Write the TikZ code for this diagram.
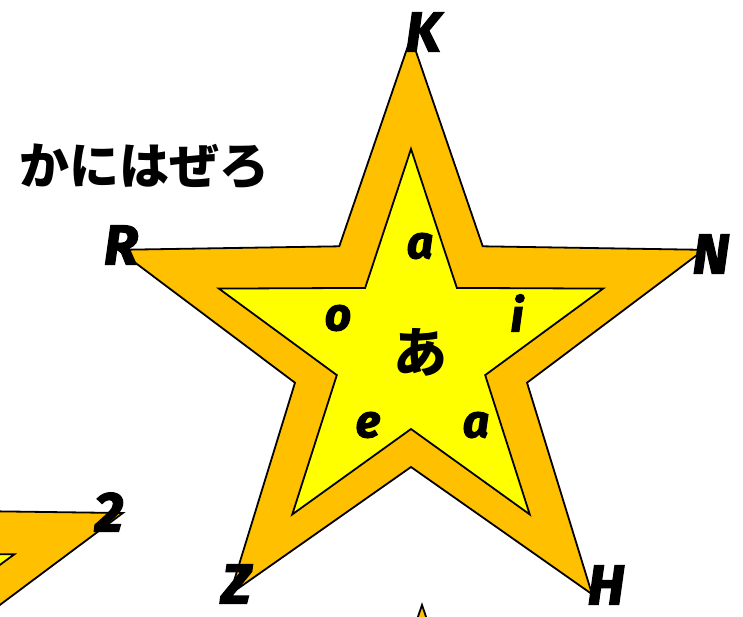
\documentclass[tikz,border=0pt]{standalone}
\usepackage{fontspec}
\setmainfont{Fira Sans}[BoldItalicFeatures={FakeBold=2.5}]
\newfontfamily\jpfont{Noto Sans CJK JP Black}
\definecolor{starorange}{HTML}{FFC000}
\definecolor{staryellow}{HTML}{FFFF00}
\newcommand\mystar[2]{(90:#1) -- (126:#2) -- (162:#1) -- (198:#2) -- (234:#1) -- (270:#2) -- (306:#1) -- (342:#2) -- (18:#1) -- (54:#2) -- cycle}
\tikzset{
  outerstar/.style={draw=black, line width=1.8pt, fill=starorange, line join=miter},
  innerstar/.style={draw=black, line width=1.8pt, fill=staryellow, line join=miter},
  tiplabel/.style={font=\fontsize{56}{56}\selectfont\bfseries\itshape, inner sep=0pt},
  vowel/.style={font=\fontsize{46}{46}\selectfont\bfseries\itshape, inner sep=0pt},
  kana/.style={font=\jpfont\fontsize{50}{50}\selectfont, inner sep=0pt}
}
\begin{document}
\begin{tikzpicture}[x=1pt,y=1pt]
\useasboundingbox (0,-616) rectangle (743,0);
\begin{scope}
\clip (0,-616) rectangle (743,0);
% main star
\path[outerstar, shift={(411,-345)}] \mystar{308}{122};
\path[innerstar, shift={(411,-351)}] \mystar{202}{78};
% bottom-left partial star
\path[outerstar, shift={(-191,-615)}] \mystar{330}{130};
\path[innerstar, shift={(-191,-621)}] \mystar{216}{83};
% bottom partial star
\path[outerstar, shift={(422,-913)}] \mystar{308}{122};
\end{scope}
% tip labels
\node[tiplabel] (k) at (423,-32) {K};
\node[tiplabel] (r) at (121,-245) {R};
\node[tiplabel] (n) at (711,-254) {N};
\node[tiplabel] (z) at (236,-584) {Z};
\node[tiplabel] (h) at (606,-585) {H};
\node[tiplabel] (two) at (109,-512) {2};
% inner labels
\node[vowel] (va) at (420,-246) {a};
\node[vowel] (vo) at (338,-318) {o};
\node[vowel] (vi) at (517,-313) {i};
\node[vowel] (ve) at (368,-425) {e};
\node[vowel] (va2) at (476,-425) {a};
\node[kana, font=\jpfont\fontsize{54}{54}\selectfont] (ka) at (420,-352) {あ};
% title
\node[kana] (title) at (144,-166) {かにはぜろ};
\end{tikzpicture}
\end{document}
